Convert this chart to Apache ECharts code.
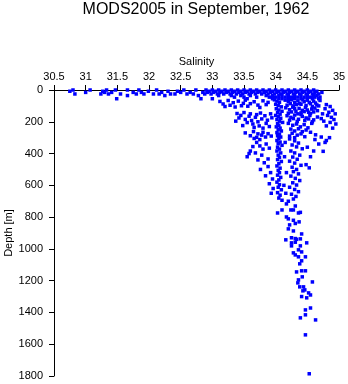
<!DOCTYPE html>
<html>
<head>
<meta charset="utf-8">
<script src="https://cdn.jsdelivr.net/npm/echarts@6/dist/echarts.min.js"></script>
<style>
  html, body { margin: 0; padding: 0; background: #fff; }
  #chart { width: 348px; height: 384px; }
</style>
</head>
<body>
<div id="chart"></div>
<script>
// Near-surface casts grouped by sampling depth: [depth (m), [salinity values]]
const mixedLayer = [
  [0,  [30.8, 31.07, 31.33, 31.47, 31.66, 31.84, 32.12, 32.55, 32.74, 32.9, 33.0, 33.1, 33.2, 33.3, 33.4, 33.5, 33.6, 33.7, 33.8, 33.9, 34.0, 34.1, 34.2, 34.3, 34.4, 34.5, 34.6]],
  [8,  [30.75, 31.27, 31.99, 32.3, 32.45, 32.95, 33.05, 33.15, 33.25, 33.35, 33.45, 33.55, 33.65, 33.75, 33.85, 33.95, 34.05, 34.15, 34.25, 34.35, 34.45, 34.55, 34.65]],
  [15, [31.0, 31.3, 31.41, 31.75, 31.88, 32.2, 32.5, 32.65, 32.85, 32.92, 33.02, 33.12, 33.22, 33.32, 33.42, 33.52, 33.62, 33.72, 33.82, 33.92, 34.02, 34.12, 34.22, 34.32, 34.42, 34.52, 34.62, 34.73]],
  [25, [30.83, 31.24, 31.36, 31.55, 31.8, 31.92, 32.07, 32.16, 32.34, 32.41, 32.6, 32.7, 32.88, 32.98, 33.08, 33.18, 33.28, 33.38, 33.48, 33.58, 33.68, 33.78, 33.88, 33.98, 34.08, 34.18, 34.28, 34.38, 34.48, 34.58, 34.68]],
  [35, [31.66, 32.25, 32.78, 33.1, 33.3, 33.45, 33.6, 33.85, 33.95, 34.05, 34.1, 34.2, 34.3, 34.4, 34.5, 34.6, 34.65]],
  [45, [33.35, 33.5, 33.7, 33.9, 34.0, 34.15, 34.25, 34.35, 34.45, 34.55, 34.62, 34.7]],
  [55, [31.49, 32.82, 33.0, 33.55, 33.95, 34.05, 34.1, 34.2, 34.3, 34.4, 34.5, 34.58, 34.68]]
];

// Halocline bottles, fresher side: [salinity, depth (m)]
const haloclineFresh = [
  [33.12, 72], [33.17, 88], [33.2, 104], [33.25, 66], [33.28, 96], [33.33, 80], [33.36, 107],
  [33.41, 70], [33.46, 99], [33.49, 84], [33.52, 64], [33.56, 102], [33.6, 86], [33.66, 74],
  [33.72, 95], [33.75, 110], [33.8, 68], [33.85, 92], [33.88, 78],
  [33.39, 148], [33.42, 176], [33.37, 196], [33.45, 160], [33.5, 142], [33.52, 185], [33.55, 205],
  [33.48, 224], [33.58, 165], [33.6, 150], [33.62, 192], [33.64, 214], [33.66, 236], [33.68, 172],
  [33.7, 155], [33.72, 200], [33.74, 226], [33.76, 145], [33.78, 182], [33.8, 240], [33.83, 162],
  [33.85, 210], [33.87, 190], [33.9, 230], [33.92, 150], [33.94, 175],
  [33.52, 270], [33.6, 288], [33.65, 262], [33.7, 298], [33.72, 276], [33.78, 284], [33.8, 266],
  [33.84, 296], [33.88, 275], [33.93, 290], [33.66, 305], [33.75, 312]
];

// Narrow 34.0–34.1 tongue running down from the surface: [salinity, depth (m)]
const coreColumn = [
  [33.98, 62], [34.02, 70], [34.06, 78], [34.0, 90], [34.04, 98], [34.09, 106], [34.01, 118],
  [34.05, 126], [34.1, 134], [34.03, 142], [34.07, 152], [34.0, 160], [34.04, 168], [34.08, 178],
  [34.02, 186], [34.06, 196], [34.11, 204], [34.03, 212], [34.05, 222], [34.01, 232], [34.07, 240],
  [34.04, 250], [34.09, 258], [34.02, 268], [34.06, 278], [34.03, 288], [34.08, 296], [34.05, 306],
  [34.02, 318], [34.07, 328], [34.04, 338], [34.1, 348], [34.03, 360], [34.06, 372], [34.02, 384],
  [34.08, 396], [34.04, 410], [34.06, 424], [34.03, 438], [34.09, 450], [34.05, 464], [34.02, 478],
  [34.07, 492], [34.04, 506], [34.06, 520], [34.03, 536], [34.08, 550], [34.05, 566], [34.02, 580],
  [34.06, 596], [34.04, 612], [34.09, 628], [34.03, 646], [34.07, 662], [34.05, 680], [34.1, 694]
];

// Halocline bottles, saltier side: [salinity, depth (m)]
const haloclineSalty = [
  [34.15, 64], [34.2, 72], [34.25, 62], [34.3, 80], [34.35, 68], [34.4, 90], [34.45, 74], [34.5, 64],
  [34.55, 86], [34.6, 70], [34.65, 94], [34.7, 66], [34.18, 96], [34.28, 100], [34.38, 84], [34.48, 98],
  [34.58, 104], [34.23, 86], [34.33, 92], [34.43, 62], [34.53, 78], [34.63, 82], [34.68, 100],
  [34.16, 112], [34.22, 124], [34.27, 108], [34.32, 134], [34.37, 116], [34.42, 128], [34.47, 110],
  [34.52, 140], [34.57, 120], [34.62, 114], [34.66, 130], [34.2, 146], [34.3, 118], [34.4, 144],
  [34.5, 126], [34.6, 138], [34.25, 138], [34.45, 136], [34.55, 148], [34.35, 150],
  [34.18, 162], [34.24, 172], [34.3, 158], [34.36, 184], [34.42, 166], [34.48, 176], [34.54, 160],
  [34.6, 188], [34.66, 170], [34.22, 190], [34.34, 198], [34.46, 192], [34.58, 200], [34.28, 180],
  [34.4, 154], [34.52, 182],
  [34.2, 210], [34.27, 222], [34.33, 214], [34.39, 232], [34.45, 218], [34.51, 238], [34.57, 210],
  [34.24, 246], [34.3, 258], [34.36, 244], [34.42, 262], [34.48, 252], [34.26, 272], [34.34, 284],
  [34.4, 276], [34.46, 294], [34.22, 290], [34.3, 300], [34.55, 266], [34.63, 282],
  [34.8, 92], [34.86, 104], [34.78, 118], [34.9, 128], [34.84, 140], [34.94, 150], [34.82, 160],
  [34.88, 172], [34.92, 186], [34.76, 196], [34.86, 204], [34.95, 214], [34.8, 226], [34.9, 240],
  [34.74, 150], [34.72, 180]
];

// Intermediate water, 300–700 m: [salinity, depth (m)]
const intermediateLayer = [
  [34.62, 312], [34.72, 296], [34.8, 318], [34.85, 300], [34.68, 340], [34.78, 330], [34.6, 384],
  [34.75, 386], [34.5, 360], [34.55, 420], [34.48, 470], [34.53, 490],
  [34.22, 308], [34.3, 320], [34.36, 334], [34.26, 346], [34.33, 358], [34.42, 370], [34.24, 384],
  [34.3, 396], [34.38, 410], [34.27, 422], [34.34, 436], [34.22, 448], [34.3, 460], [34.4, 474],
  [34.26, 486], [34.33, 500], [34.28, 514], [34.36, 528], [34.24, 542], [34.31, 556], [34.38, 570],
  [34.27, 584], [34.33, 598], [34.22, 612], [34.3, 626], [34.36, 640], [34.25, 656], [34.32, 670],
  [34.28, 686], [34.2, 700],
  [33.6, 384], [33.55, 420], [33.7, 330], [33.75, 352], [33.8, 372], [33.68, 396], [33.85, 340],
  [33.72, 440], [33.78, 410], [33.9, 366], [33.82, 458], [33.88, 482], [33.76, 500], [33.92, 520],
  [33.84, 540], [33.95, 560], [33.9, 590], [33.96, 620], [33.93, 650], [33.88, 434], [33.64, 356],
  [33.58, 400],
  [34.15, 330], [34.14, 420], [34.17, 520], [34.13, 600], [34.16, 650]
];

// Deep bottles below 700 m: [salinity, depth (m)]
const deepSamples = [
  [34.1, 755], [34.17, 717], [34.24, 755], [34.28, 755], [34.36, 774], [34.39, 770],
  [34.03, 774], [34.31, 730], [34.17, 799], [34.2, 811], [34.22, 849], [34.28, 820],
  [34.31, 840], [34.37, 830], [34.2, 874], [34.28, 887], [34.41, 906], [34.16, 943],
  [34.25, 930], [34.31, 935], [34.33, 940], [34.39, 937], [34.25, 962], [34.31, 958],
  [34.49, 962], [34.25, 981], [34.39, 981], [34.36, 1006], [34.41, 1019], [34.28, 1025],
  [34.31, 1038], [34.36, 1050], [34.47, 1050], [34.41, 1075], [34.38, 1094], [34.33, 1145],
  [34.41, 1138], [34.47, 1138], [34.42, 1176], [34.36, 1195], [34.35, 1214], [34.58, 1208],
  [34.38, 1239], [34.44, 1239], [34.46, 1258], [34.43, 1264], [34.52, 1277], [34.41, 1300],
  [34.49, 1308], [34.55, 1290], [34.47, 1384], [34.55, 1372], [34.47, 1415], [34.39, 1434],
  [34.63, 1447], [34.47, 1541], [34.53, 1786]
];

const salinityTicks = { min: 30.5, max: 35, step: 0.5 };
const depthTicks = { min: 0, max: 1800, step: 200 };

function flattenLevels(levels) {
  const out = [];
  levels.forEach(([depth, values]) => values.forEach(s => out.push([s, depth])));
  return out;
}

const points = []
  .concat(flattenLevels(mixedLayer))
  .concat(haloclineFresh)
  .concat(coreColumn)
  .concat(haloclineSalty)
  .concat(intermediateLayer)
  .concat(deepSamples);

const chart = echarts.init(document.getElementById('chart'), null, { renderer: 'canvas' });
const font = 'Liberation Sans, Arial, Helvetica, sans-serif';

chart.setOption({
  animation: false,
  backgroundColor: '#ffffff',
  title: {
    text: 'MODS2005 in September, 1962',
    left: 196,
    top: 2,
    padding: 0,
    textAlign: 'center',
    textStyle: { fontFamily: font, fontSize: 16, fontWeight: 'normal', color: '#000' }
  },
  grid: { left: 54, right: 9, top: 90, bottom: 8, containLabel: false, outerBoundsMode: 'none' },
  xAxis: {
    type: 'value',
    position: 'top',
    min: salinityTicks.min,
    max: salinityTicks.max,
    interval: salinityTicks.step,
    name: 'Salinity',
    nameLocation: 'middle',
    nameGap: 23,
    nameMoveOverlap: false,
    nameTextStyle: { fontFamily: font, fontSize: 11, color: '#000' },
    axisLine: { show: true, onZero: false, lineStyle: { color: '#000', width: 1 } },
    axisTick: { show: true, length: 5, lineStyle: { color: '#000' } },
    axisLabel: { fontFamily: font, fontSize: 11, color: '#000', margin: 8 },
    splitLine: { show: false }
  },
  yAxis: {
    type: 'value',
    inverse: true,
    min: depthTicks.min,
    max: depthTicks.max,
    interval: depthTicks.step,
    name: 'Depth [m]',
    nameLocation: 'middle',
    nameGap: 40,
    nameMoveOverlap: false,
    nameTextStyle: { fontFamily: font, fontSize: 11, color: '#000' },
    axisLine: { show: true, onZero: false, lineStyle: { color: '#000', width: 1 } },
    axisTick: { show: true, length: 5, lineStyle: { color: '#000' } },
    axisLabel: { fontFamily: font, fontSize: 11, color: '#000', margin: 11, formatter: v => String(v) },
    splitLine: { show: false }
  },
  series: [{
    type: 'scatter',
    data: points,
    symbol: 'rect',
    symbolSize: 3.5,
    clip: false,
    itemStyle: { color: '#0000ff', opacity: 1 }
  }]
});
</script>
</body>
</html>
